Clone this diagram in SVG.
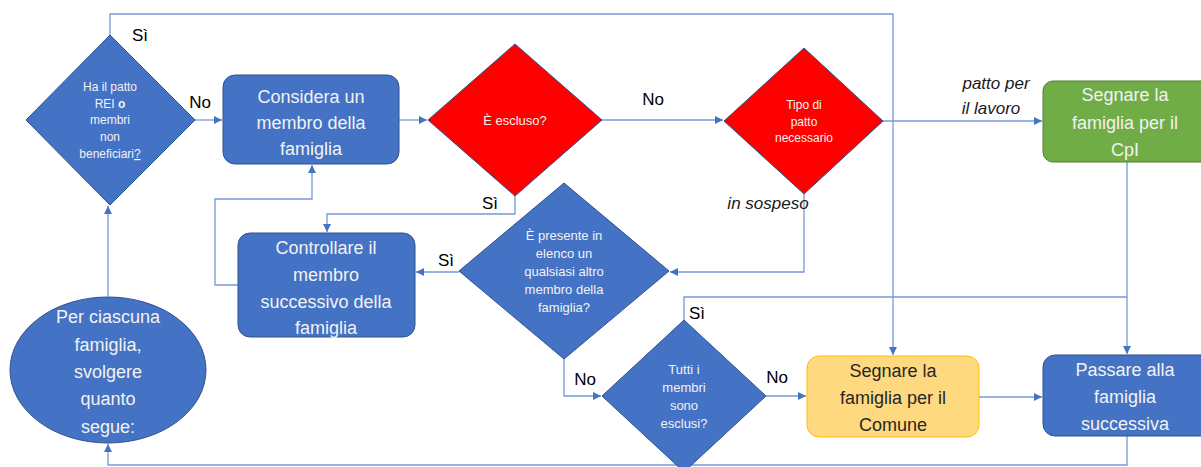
<svg xmlns="http://www.w3.org/2000/svg" width="1201" height="467" viewBox="0 0 1201 467">
<defs>
<marker id="arr" viewBox="0 0 10 10" refX="10" refY="5" markerWidth="8" markerHeight="8" markerUnits="userSpaceOnUse" orient="auto">
<path d="M0,0 L10,5 L0,10 z" fill="#4472C4"/>
</marker>
<style>
.con{fill:none;stroke:#7598DA;stroke-width:1.3}
.blue{fill:#4472C4;stroke:#2F528F;stroke-width:1}
.red{fill:#FF0000;stroke:#2F528F;stroke-width:1}
.green{fill:#70AD47;stroke:#507E32;stroke-width:1}
.yellow{fill:#FFD97F;stroke:#FFC000;stroke-width:1}
.t{font-family:"Liberation Sans",Arial,sans-serif;text-anchor:middle;fill:#F2F2F2}
.big{font-size:18px}
.sm{font-size:12px}
.md{font-size:13px}
.dark{fill:#262626}
.lbl{font-family:"Liberation Sans",Arial,sans-serif;font-size:17px;fill:#000}
.it{font-style:italic;fill:#1a1a1a}
</style>
</defs>

<g id="connectors">
<path class="con" d="M110,35 V14 H893 V355" marker-end="url(#arr)"/>
<path class="con" d="M195,120 H222" marker-end="url(#arr)"/>
<path class="con" d="M399,120 H427" marker-end="url(#arr)"/>
<path class="con" d="M602,120 H723" marker-end="url(#arr)"/>
<path class="con" d="M883,121 H1042" marker-end="url(#arr)"/>
<path class="con" d="M1127,162 V354" marker-end="url(#arr)"/>
<path class="con" d="M515,196 V214 H327 V232" marker-end="url(#arr)"/>
<path class="con" d="M238,285 H215 V199 H312 V165" marker-end="url(#arr)"/>
<path class="con" d="M804,194 V272 H670" marker-end="url(#arr)"/>
<path class="con" d="M459,272 H416" marker-end="url(#arr)"/>
<path class="con" d="M564,359 V396 H601" marker-end="url(#arr)"/>
<path class="con" d="M684,320 V297 H1127"/>
<path class="con" d="M766,396 H806" marker-end="url(#arr)"/>
<path class="con" d="M979,397 H1042" marker-end="url(#arr)"/>
<path class="con" d="M1127,436 V465 H108 V444" marker-end="url(#arr)"/>
<path class="con" d="M108,296 V206" marker-end="url(#arr)"/>
</g>

<g id="labels">
<text class="lbl" x="140" y="41" text-anchor="middle">Sì</text>
<text class="lbl" x="200" y="108" text-anchor="middle">No</text>
<text class="lbl" x="653" y="105" text-anchor="middle">No</text>
<text class="lbl" x="490" y="209" text-anchor="middle">Sì</text>
<text class="lbl" x="446" y="266" text-anchor="middle">Sì</text>
<text class="lbl" x="585" y="385" text-anchor="middle">No</text>
<text class="lbl" x="777" y="383" text-anchor="middle">No</text>
<text class="lbl" x="697" y="319" text-anchor="middle">Sì</text>
<text class="lbl it" x="768" y="209" text-anchor="middle">in sospeso</text>
<text class="lbl it" x="996" y="89" text-anchor="middle">patto per</text>
<text class="lbl it" x="991" y="114" text-anchor="middle">il lavoro</text>
</g>

<g id="start">
<ellipse class="blue" cx="108" cy="370" rx="98" ry="73"/>
<text class="t big" x="108" y="323">Per ciascuna</text>
<text class="t big" x="108" y="351">famiglia,</text>
<text class="t big" x="108" y="378">svolgere</text>
<text class="t big" x="108" y="405">quanto</text>
<text class="t big" x="108" y="433">segue:</text>
</g>

<g id="d-patto">
<polygon class="blue" points="110,35 195,120 110,205 26,120"/>
<text class="t sm" x="110" y="91">Ha il patto</text>
<text class="t sm" x="110" y="108">REI <tspan font-weight="bold">o</tspan></text>
<text class="t sm" x="110" y="124">membri</text>
<text class="t sm" x="110" y="141">non</text>
<text class="t sm" x="110" y="158">beneficiari<tspan text-decoration="underline">?</tspan></text>
</g>

<g id="considera">
<rect class="blue" x="223" y="75" width="176" height="89" rx="12"/>
<text class="t big" x="311" y="103">Considera un</text>
<text class="t big" x="311" y="129">membro della</text>
<text class="t big" x="311" y="155">famiglia</text>
</g>

<g id="d-escluso">
<polygon class="red" points="515,44 602,120 515,196 428,120"/>
<text class="t md" x="515" y="125">È escluso?</text>
</g>

<g id="d-tipo">
<polygon class="red" points="804,48 883,121 804,194 724,121"/>
<text class="t sm" x="804" y="109">Tipo di</text>
<text class="t sm" x="804" y="126">patto</text>
<text class="t sm" x="804" y="142">necessario</text>
</g>

<g id="cpi">
<rect class="green" x="1043" y="81" width="170" height="81" rx="10"/>
<text class="t big" x="1125" y="101">Segnare la</text>
<text class="t big" x="1125" y="129">famiglia per il</text>
<text class="t big" x="1125" y="156">CpI</text>
</g>

<g id="controllare">
<rect class="blue" x="238" y="233" width="177" height="104" rx="12"/>
<text class="t big" x="326" y="254">Controllare il</text>
<text class="t big" x="326" y="281">membro</text>
<text class="t big" x="326" y="308">successivo della</text>
<text class="t big" x="326" y="334">famiglia</text>
</g>

<g id="d-presente">
<polygon class="blue" points="564,183 669,271 564,359 459,271"/>
<text class="t md" x="564" y="240">È presente in</text>
<text class="t md" x="564" y="258">elenco un</text>
<text class="t md" x="564" y="276">qualsiasi altro</text>
<text class="t md" x="564" y="294">membro della</text>
<text class="t md" x="564" y="312">famiglia?</text>
</g>

<g id="d-tutti">
<polygon class="blue" points="684,320 766,396 684,472 602,396"/>
<text class="t md" x="684" y="374">Tutti i</text>
<text class="t md" x="684" y="392">membri</text>
<text class="t md" x="684" y="410">sono</text>
<text class="t md" x="684" y="428">esclusi?</text>
</g>

<g id="comune">
<rect class="yellow" x="807" y="356" width="172" height="81" rx="12"/>
<text class="t big dark" x="893" y="377">Segnare la</text>
<text class="t big dark" x="893" y="404">famiglia per il</text>
<text class="t big dark" x="893" y="431">Comune</text>
</g>

<g id="passare">
<rect class="blue" x="1043" y="355" width="170" height="81" rx="12"/>
<text class="t big" x="1125" y="376">Passare alla</text>
<text class="t big" x="1125" y="403">famiglia</text>
<text class="t big" x="1125" y="430">successiva</text>
</g>
</svg>
